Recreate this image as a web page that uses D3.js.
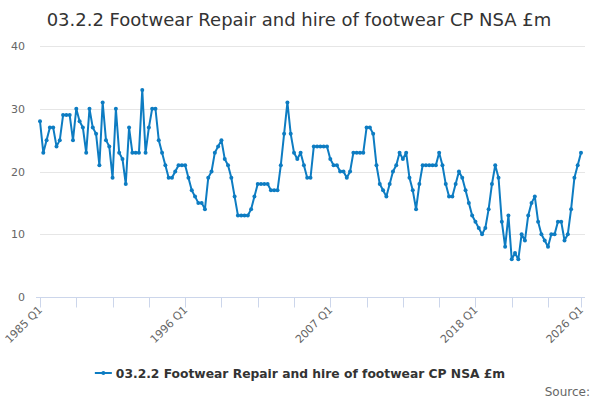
<!DOCTYPE html>
<html>
<head>
<meta charset="utf-8">
<script src="https://cdn.jsdelivr.net/npm/d3@7"></script>
<style>
  html, body { margin: 0; padding: 0; background: #fff; }
  svg { display: block; font-family: "DejaVu Sans", sans-serif; }
</style>
</head>
<body>
<div id="chart"></div>
<script>
const title = "03.2.2 Footwear Repair and hire of footwear CP NSA £m";
const seriesName = "03.2.2 Footwear Repair and hire of footwear CP NSA £m";
const startYear = 1985;
const values = [
  28, 23, 25, 27, 27, 24, 25, 29, 29, 29,
  25, 30, 28, 27, 23, 30, 27, 26, 21, 31,
  25, 24, 19, 30, 23, 22, 18, 27, 23, 23,
  23, 33, 23, 27, 30, 30, 25, 23, 21, 19,
  19, 20, 21, 21, 21, 19, 17, 16, 15, 15,
  14, 19, 20, 23, 24, 25, 22, 21, 19, 16,
  13, 13, 13, 13, 14, 16, 18, 18, 18, 18,
  17, 17, 17, 21, 26, 31, 26, 23, 22, 23,
  21, 19, 19, 24, 24, 24, 24, 24, 22, 21,
  21, 20, 20, 19, 20, 23, 23, 23, 23, 27,
  27, 26, 21, 18, 17, 16, 18, 20, 21, 23,
  22, 23, 19, 17, 14, 18, 21, 21, 21, 21,
  21, 23, 21, 18, 16, 16, 18, 20, 19, 17,
  15, 13, 12, 11, 10, 11, 14, 18, 21, 19,
  12, 8, 13, 6, 7, 6, 10, 9, 13, 15,
  16, 12, 10, 9, 8, 10, 10, 12, 12, 9,
  10, 14, 19, 21, 23
];
const categories = values.map((v, i) => `${startYear + Math.floor(i / 4)} Q${(i % 4) + 1}`);
const yTicks = [0, 10, 20, 30, 40];
const tickStep = 11;     // tick mark every 11 quarters
const labelStep = 44;    // label every 44 quarters

const W = 600, H = 400;
const margin = { left: 40, right: 19, top: 46, bottom: 103 };
const svg = d3.select("#chart").append("svg").attr("width", W).attr("height", H);

const x = d3.scaleLinear().domain([0, values.length - 1]).range([margin.left, W - margin.right]);
const y = d3.scaleLinear().domain([0, 40]).range([H - margin.bottom, margin.top]);

// title
svg.append("text").attr("x", W / 2 - 1).attr("y", 26).attr("text-anchor", "middle")
  .attr("font-size", 18).attr("fill", "#333").text(title);

// gridlines
svg.append("g").selectAll("line").data(yTicks.filter(d => d > 0)).join("line")
  .attr("x1", margin.left).attr("x2", W - margin.right + 4)
  .attr("y1", d => Math.round(y(d)) + 0.5).attr("y2", d => Math.round(y(d)) + 0.5)
  .attr("stroke", "#e6e6e6").attr("stroke-width", 1);

// y labels
svg.append("g").selectAll("text").data(yTicks).join("text")
  .attr("x", 25).attr("y", d => y(d) + 4).attr("text-anchor", "end")
  .attr("font-size", 11).attr("fill", "#666").text(d => d);

// x axis
const tickIdx = d3.range(0, values.length, tickStep);
if (tickIdx[tickIdx.length - 1] !== values.length - 1) tickIdx.push(values.length - 1);
const labelIdx = d3.range(0, values.length, labelStep).concat([values.length - 1]);
const axisY = Math.round(y(0)) + 0.5;
svg.append("line").attr("x1", margin.left - 4).attr("x2", W - margin.right + 4)
  .attr("y1", axisY).attr("y2", axisY).attr("stroke", "#ccd6eb").attr("stroke-width", 1);
svg.append("g").selectAll("line").data(tickIdx).join("line")
  .attr("x1", d => Math.round(x(d)) + 0.5).attr("x2", d => Math.round(x(d)) + 0.5)
  .attr("y1", axisY).attr("y2", axisY + 10).attr("stroke", "#ccd6eb").attr("stroke-width", 1);
svg.append("g").selectAll("text").data(labelIdx).join("text")
  .attr("transform", d => `translate(${x(d) + 3},${axisY + 13}) rotate(-45)`)
  .attr("text-anchor", "end").attr("font-size", 11).attr("fill", "#666")
  .text(d => categories[d]);

// line
const color = "#0d7cc2";
const line = d3.line().x((d, i) => x(i)).y(d => y(d));
svg.append("path").datum(values).attr("d", line).attr("fill", "none")
  .attr("stroke", color).attr("stroke-width", 2).attr("stroke-linejoin", "round");
svg.append("g").selectAll("circle").data(values).join("circle")
  .attr("cx", (d, i) => x(i)).attr("cy", d => y(d)).attr("r", 2).attr("fill", color);

// legend (centred)
const lg = svg.append("g");
const lt = lg.append("text").attr("x", 21).attr("y", 5).attr("font-size", 12.3).attr("font-weight", "bold")
  .attr("fill", "#333").text(seriesName);
lg.append("line").attr("x1", 0).attr("x2", 17).attr("y1", 0).attr("y2", 0)
  .attr("stroke", color).attr("stroke-width", 2);
lg.append("circle").attr("cx", 8.5).attr("cy", 0).attr("r", 2).attr("fill", color);
const lw = 21 + lt.node().getComputedTextLength();
lg.attr("transform", `translate(${(W - lw) / 2},373)`);

// source
svg.append("text").attr("x", 590).attr("y", 396).attr("text-anchor", "end")
  .attr("font-size", 12).attr("fill", "#666").text("Source:");
</script>
</body>
</html>
